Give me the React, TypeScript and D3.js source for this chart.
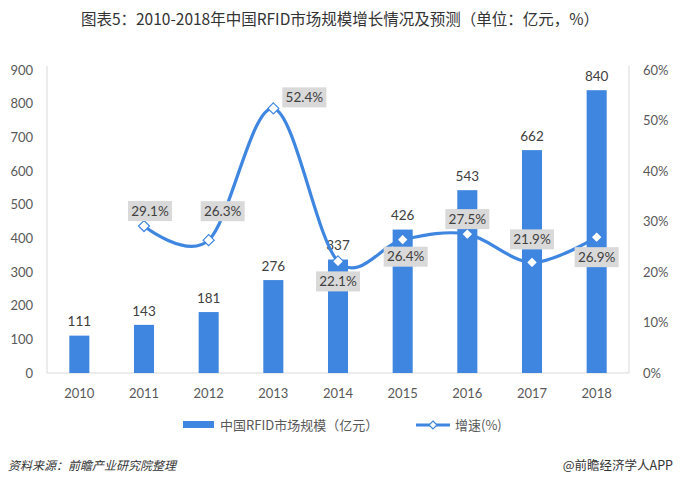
import React from "react";
import * as d3 from "d3";

const years = ["2010", "2011", "2012", "2013", "2014", "2015", "2016", "2017", "2018"];
const marketSize = [111, 143, 181, 276, 337, 426, 543, 662, 840];
const growth: (number | null)[] = [null, 29.1, 26.3, 52.4, 22.1, 26.4, 27.5, 21.9, 26.9];
const leftTicks = [0, 100, 200, 300, 400, 500, 600, 700, 800, 900];
const rightTicks = [0, 10, 20, 30, 40, 50, 60];
// label box offsets relative to marker (layout only)
const growthLabelOffset: [number, number][] = [
  [0, 0], [6, -15], [14, -29], [31, -11], [0, 20], [3, 17], [0, -15], [0, -23], [0, 20],
];

const W = 680, H = 484;
const M = { left: 47, right: 629, top: 70, bottom: 373 };
const BLUE = "#3F86E0";
const FONT = "Lato, 'Noto Sans', sans-serif";
const CJK = "'Noto Sans CJK SC', sans-serif";

export default function App() {
  const x = d3.scaleBand<string>().domain(years).range([M.left, M.right]).paddingInner(0.69).paddingOuter(0.345);
  const yL = d3.scaleLinear().domain([0, 900]).range([M.bottom, M.top]);
  const yR = d3.scaleLinear().domain([0, 60]).range([M.bottom, M.top]);
  const cx = (y: string) => (x(y) as number) + x.bandwidth() / 2;

  const pts = years
    .map((y, i) => ({ y, i, g: growth[i] }))
    .filter((d) => d.g !== null) as { y: string; i: number; g: number }[];
  const line = d3
    .line<{ y: string; g: number }>()
    .x((d) => cx(d.y))
    .y((d) => yR(d.g))
    .curve(d3.curveCardinal.tension(0));

  const diamond = (px: number, py: number, r = 5.5) =>
    `M${px},${py - r}L${px + r},${py}L${px},${py + r}L${px - r},${py}Z`;

  return (
    <div style={{ position: "fixed", left: 0, top: 0 }}>
      <svg width={W} height={H} style={{ display: "block", background: "#fff" }}>
        <text x={340} y={25} textAnchor="middle" fontFamily={CJK} fontSize={15.5} fill="#333">
          图表5：2010-2018年中国RFID市场规模增长情况及预测（单位：亿元，%）
        </text>

        {/* axes lines */}
        <line x1={M.left} x2={M.left} y1={M.top - 4} y2={M.bottom} stroke="#d9d9d9" />
        <line x1={M.right} x2={M.right} y1={M.top - 4} y2={M.bottom} stroke="#d9d9d9" />
        <line x1={M.left} x2={M.right} y1={M.bottom} y2={M.bottom} stroke="#d9d9d9" />

        {leftTicks.map((t) => (
          <text key={t} x={33} y={yL(t)} dy="0.35em" textAnchor="end" fontFamily={FONT} fontSize={13} fill="#595959">
            {t}
          </text>
        ))}
        {rightTicks.map((t) => (
          <text key={t} x={643} y={yR(t)} dy="0.35em" textAnchor="start" fontFamily={FONT} fontSize={13} fill="#595959">
            {t}%
          </text>
        ))}
        {years.map((y) => (
          <text key={y} x={cx(y)} y={393} dy="0.35em" textAnchor="middle" fontFamily={FONT} fontSize={13} fill="#595959">
            {y}
          </text>
        ))}

        {/* bars */}
        {years.map((y, i) => (
          <g key={y}>
            <rect x={x(y)} y={yL(marketSize[i])} width={x.bandwidth()} height={M.bottom - yL(marketSize[i])} fill={BLUE} />
            <text x={cx(y)} y={yL(marketSize[i]) - 14} dy="0.35em" textAnchor="middle" fontFamily={FONT} fontSize={13.5} fill="#404040">
              {marketSize[i]}
            </text>
          </g>
        ))}

        {/* growth line */}
        <path d={line(pts) || ""} fill="none" stroke={BLUE} strokeWidth={3.2} />
        {pts.map((d) => (
          <path key={d.y} d={diamond(cx(d.y), yR(d.g))} fill="#fff" stroke={BLUE} strokeWidth={1.2} />
        ))}
        {pts.map((d) => {
          const [ox, oy] = growthLabelOffset[d.i];
          const bx = cx(d.y) + ox;
          const by = yR(d.g) + oy;
          return (
            <g key={d.y}>
              <rect x={bx - 22} y={by - 10} width={44} height={20} fill="#d9d9d9" />
              <text x={bx} y={by} dy="0.35em" textAnchor="middle" fontFamily={FONT} fontSize={13.5} fill="#404040">
                {d.g.toFixed(1)}%
              </text>
            </g>
          );
        })}

        {/* legend */}
        <rect x={183} y={421} width={31} height={7} fill={BLUE} />
        <text x={220} y={425} dy="0.35em" fontFamily={CJK} fontSize={13} fill="#595959">
          中国RFID市场规模（亿元）
        </text>
        <line x1={416} x2={450} y1={425} y2={425} stroke={BLUE} strokeWidth={3} />
        <path d={diamond(433, 425, 4)} fill="#fff" stroke={BLUE} strokeWidth={1.2} />
        <text x={455} y={425} dy="0.35em" fontFamily={CJK} fontSize={13} fill="#595959">
          增速(%)
        </text>

        {/* footer */}
        <text x={8} y={466} dy="0.35em" fontFamily={CJK} fontSize={12} fontStyle="italic" fill="#333">
          资料来源：前瞻产业研究院整理
        </text>
        <text x={673} y={466} dy="0.35em" textAnchor="end" fontFamily={CJK} fontSize={12.5} fill="#333">
          @前瞻经济学人APP
        </text>
      </svg>
    </div>
  );
}
